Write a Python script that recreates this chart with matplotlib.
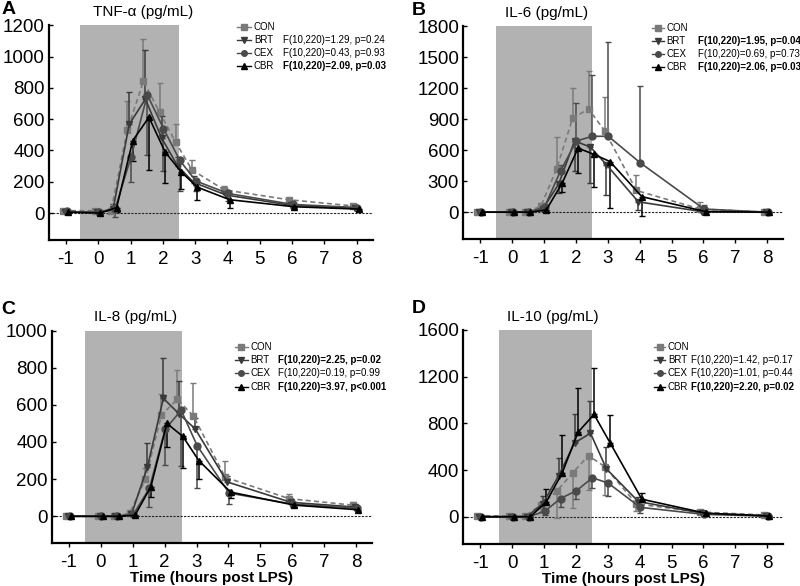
import numpy as np
import matplotlib
matplotlib.use("Agg")
import matplotlib.pyplot as plt

plt.rcParams['font.family'] = ['Liberation Sans', 'DejaVu Sans']

# sampling times (hours post LPS)
TIME = [-1, 0, 0.5, 1, 1.5, 2, 2.5, 3, 4, 6, 8]
GROUPS = ['CON', 'BRT', 'CEX', 'CBR']

# A: TNF-alpha
tnf_con = [15, 15, 15, 530, 843, 643, 452, 276, 148, 85, 45]
tnf_brt = [5, 5, 25, 567, 728, 480, 300, 195, 115, 50, 30]
tnf_cex = [10, 5, 25, 360, 755, 540, 338, 205, 125, 55, 35]
tnf_cbr = [5, 0, 35, 463, 612, 390, 262, 165, 85, 40, 25]
tnf_con_err = [10, 10, 20, 185, 267, 187, 118, 64, 27, 12, 10]
tnf_brt_err = [5, 5, 30, 208, 312, 140, 60, 40, 30, 15, 10]
tnf_cex_err = [5, 5, 50, 162, 385, 270, 195, 65, 45, 20, 10]
tnf_cbr_err = [5, 5, 30, 130, 338, 197, 110, 80, 50, 10, 5]

# B: IL-6
il6_con = [0, 0, 0, 55, 420, 910, 1000, 790, 210, 30, 0]
il6_brt = [0, 0, 0, 30, 270, 690, 630, 460, 100, 5, 0]
il6_cex = [0, 0, 0, 50, 400, 690, 735, 735, 478, 30, 0]
il6_cbr = [0, 0, 0, 20, 280, 620, 560, 490, 150, 5, 0]
il6_con_err = [5, 5, 5, 30, 310, 290, 364, 330, 150, 70, 5]
il6_brt_err = [5, 5, 5, 10, 80, 290, 352, 290, 75, 5, 5]
il6_cex_err = [5, 5, 5, 20, 60, 370, 597, 917, 745, 40, 5]
il6_cbr_err = [5, 5, 5, 10, 80, 240, 319, 453, 190, 5, 5]

# C: IL-8
il8_con = [0, 0, 0, 15, 200, 545, 630, 540, 210, 95, 60]
il8_brt = [0, 0, 0, 10, 265, 635, 550, 470, 185, 75, 50]
il8_cex = [0, 0, 0, 10, 150, 470, 570, 380, 125, 65, 45]
il8_cbr = [0, 0, 0, 5, 160, 500, 430, 300, 130, 60, 35]
il8_con_err = [5, 5, 5, 10, 60, 115, 160, 175, 85, 25, 15]
il8_brt_err = [5, 5, 5, 10, 130, 215, 180, 60, 30, 15, 10]
il8_cex_err = [5, 5, 5, 10, 100, 195, 300, 227, 60, 15, 10]
il8_cbr_err = [5, 5, 5, 5, 55, 125, 170, 100, 30, 10, 5]

# D: IL-10
il10_con = [10, 5, 5, 100, 217, 376, 523, 430, 110, 40, 15]
il10_brt = [0, 0, 0, 110, 350, 632, 715, 410, 130, 30, 10]
il10_cex = [0, 0, 0, 45, 156, 223, 334, 287, 80, 20, 5]
il10_cbr = [0, 0, 0, 125, 373, 724, 876, 635, 150, 30, 5]
il10_con_err = [5, 5, 5, 60, 230, 300, 290, 240, 60, 10, 5]
il10_brt_err = [5, 5, 5, 70, 150, 250, 275, 190, 40, 10, 5]
il10_cex_err = [5, 5, 5, 30, 70, 75, 92, 106, 45, 10, 5]
il10_cbr_err = [5, 5, 5, 115, 327, 376, 400, 240, 55, 10, 5]

# group x time interaction stats (BRT, CEX, CBR), bold = significant
stats_A = [('F(10,220)=1.29, p=0.24', False), ('F(10,220)=0.43, p=0.93', False), ('F(10,220)=2.09, p=0.03', True)]
stats_B = [('F(10,220)=1.95, p=0.04', True), ('F(10,220)=0.69, p=0.73', False), ('F(10,220)=2.06, p=0.03', True)]
stats_C = [('F(10,220)=2.25, p=0.02', True), ('F(10,220)=0.19, p=0.99', False), ('F(10,220)=3.97, p<0.001', True)]
stats_D = [('F(10,220)=1.42, p=0.17', False), ('F(10,220)=1.01, p=0.44', False), ('F(10,220)=2.20, p=0.02', True)]

# styles for each group
style = {
    'CON': dict(color='#7a7a7a', marker='s', ls=(0, (3, 2)), dx=-0.10),
    'BRT': dict(color='#3a3a3a', marker='v', ls='-', dx=-0.04),
    'CEX': dict(color='#4a4a4a', marker='o', ls='-', dx=0.02),
    'CBR': dict(color='#000000', marker='^', ls='-', dx=0.07),
}

panels = [
    dict(letter='A', title='TNF-α (pg/mL)', rect=[0.061, 0.590, 0.405, 0.367],
         ymax=1200, ystep=200, shade=(-0.55, 2.5),
         vals=[tnf_con, tnf_brt, tnf_cex, tnf_cbr],
         errs=[tnf_con_err, tnf_brt_err, tnf_cex_err, tnf_cbr_err],
         updown=[1, 1, -1, -1], stats=stats_A,
         leg=(0.58, 0.633, 0.722), rows=[0.99, 0.93, 0.87, 0.81], tx=0.29, xlabel=False),
    dict(letter='B', title='IL-6 (pg/mL)', rect=[0.579, 0.592, 0.40, 0.363],
         ymax=1800, ystep=300, shade=(-0.5, 2.5),
         vals=[il6_con, il6_brt, il6_cex, il6_cbr],
         errs=[il6_con_err, il6_brt_err, il6_cex_err, il6_cbr_err],
         updown=[1, -1, 1, -1], stats=stats_B,
         leg=(0.59, 0.635, 0.735), rows=[0.99, 0.93, 0.87, 0.81], tx=0.26, xlabel=False),
    dict(letter='C', title='IL-8 (pg/mL)', rect=[0.065, 0.073, 0.40, 0.363],
         ymax=1000, ystep=200, shade=(-0.5, 2.55),
         vals=[il8_con, il8_brt, il8_cex, il8_cbr],
         errs=[il8_con_err, il8_brt_err, il8_cex_err, il8_cbr_err],
         updown=[1, 1, -1, -1], stats=stats_C,
         leg=(0.573, 0.619, 0.706), rows=[0.922, 0.859, 0.798, 0.734], tx=0.26, xlabel=True),
    dict(letter='D', title='IL-10 (pg/mL)', rect=[0.579, 0.072, 0.40, 0.365],
         ymax=1600, ystep=400, shade=(-0.4, 2.5),
         vals=[il10_con, il10_brt, il10_cex, il10_cbr],
         errs=[il10_con_err, il10_brt_err, il10_cex_err, il10_cbr_err],
         updown=[-1, 1, -1, 1], stats=stats_D,
         leg=(0.595, 0.64, 0.712), rows=[0.922, 0.859, 0.798, 0.734], tx=0.28, xlabel=True),
]

fig = plt.figure(figsize=(8, 5.86), dpi=100)

for p in panels:
    ax = fig.add_axes(p['rect'])
    ymin = -0.145 * p['ymax']
    ax.set_xlim(-1.53, 8.5)
    ax.set_ylim(ymin, p['ymax'])
    ax.axvspan(p['shade'][0], p['shade'][1], color='#b2b2b2', lw=0, zorder=0)
    ax.axhline(0, color='#222222', lw=0.8, ls=(0, (2, 1.2)), zorder=1)

    t = np.array(TIME)
    for g, v, e, d in zip(GROUPS, p['vals'], p['errs'], p['updown']):
        s = style[g]
        e = np.array(e)
        zeros = np.zeros_like(e)
        yerr = [zeros, e] if d > 0 else [e, zeros]
        ax.errorbar(t + s['dx'], v, yerr=yerr, color=s['color'], ls='none',
                    elinewidth=1.1, capsize=2.2, capthick=1.0, zorder=2)
        ax.plot(t + s['dx'], v, color=s['color'], ls=s['ls'], lw=1.2,
                marker=s['marker'], ms=5, zorder=3)

    # legend with stats
    x0, xt, xs = p['leg']
    x1 = xt - 0.008
    for i, g in enumerate(GROUPS):
        s = style[g]
        yy = p['rows'][i]
        ax.plot([x0, x1], [yy, yy], transform=ax.transAxes, color=s['color'],
                ls='-', lw=1.0, clip_on=False)
        ax.plot([(x0 + x1) / 2], [yy], transform=ax.transAxes, color=s['color'],
                marker=s['marker'], ms=4, clip_on=False)
        ax.text(xt, yy, g, transform=ax.transAxes, fontsize=7, va='center', ha='left')
        if i > 0:
            txt, bold = p['stats'][i - 1]
            ax.text(xs, yy, txt, transform=ax.transAxes, fontsize=7, va='center', ha='left',
                    fontweight='bold' if bold else 'normal')

    ax.set_xticks(range(-1, 9))
    ax.set_xticklabels([str(k) for k in range(-1, 9)])
    ax.set_yticks(np.arange(0, p['ymax'] + 1, p['ystep']))
    ax.tick_params(axis='x', labelsize=13.5, length=3, width=1, direction='out', pad=5)
    ax.tick_params(axis='y', labelsize=13.5, length=3, width=1, direction='in', pad=3)
    for sp in ['top', 'right']:
        ax.spines[sp].set_visible(False)
    for sp in ['left', 'bottom']:
        ax.spines[sp].set_linewidth(1.6)

    ax.text(p['tx'], 1.03, p['title'], transform=ax.transAxes, fontsize=11,
            ha='center', va='bottom')
    if p['xlabel']:
        ax.set_xlabel('Time (hours post LPS)', fontsize=11, fontweight='bold', labelpad=0)

    # panel letter
    bb = p['rect']
    lx = 0.002 if bb[0] < 0.5 else 0.515
    ly = bb[1] + bb[3] + 0.012 if p['letter'] in 'AB' else bb[1] + bb[3] + 0.022
    fig.text(lx, ly, p['letter'], fontsize=14, fontweight='bold', ha='left', va='bottom')

fig.savefig('out.png', dpi=100)
